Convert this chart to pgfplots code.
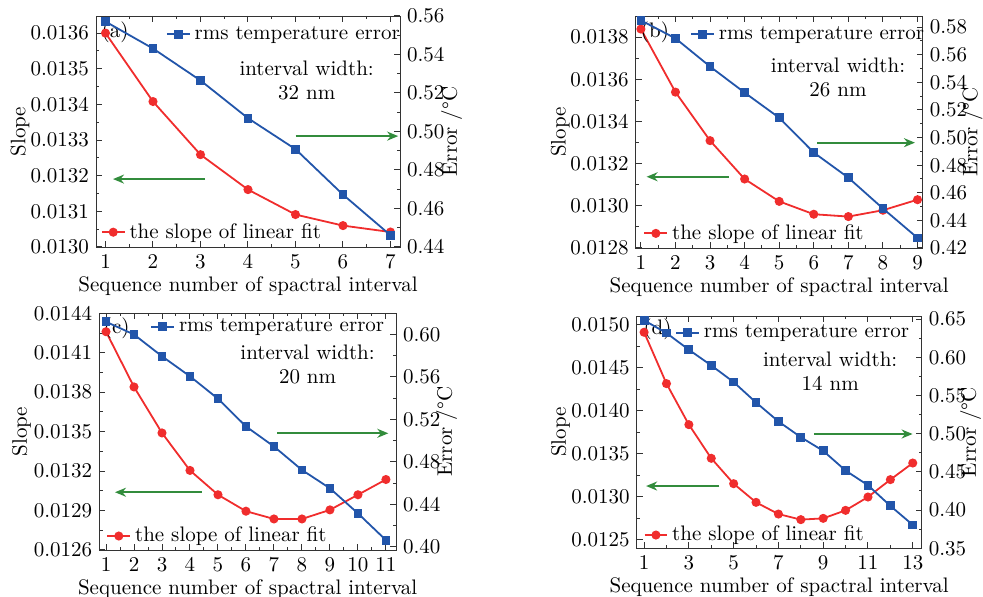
\documentclass[border=0pt]{standalone}
\usepackage{pgfplots}
\pgfplotsset{compat=1.18}
\usetikzlibrary{arrows.meta}
\definecolor{cblue}{RGB}{34,85,170}
\definecolor{cred}{RGB}{240,45,45}
\definecolor{cgreen}{RGB}{50,140,60}
\tikzset{garrow/.style={cgreen, line width=1pt, -{Stealth[length=5.5pt,width=4.5pt]}}}
\pgfplotsset{
  every axis/.append style={font=\fontsize{10.5}{12}\selectfont},
  base/.style={scale only axis, anchor=south west,
    /pgf/number format/assume math mode=true,
    tick align=inside, minor tick num=1,
    major tick length=3pt, minor tick length=1.6pt,
    axis line style={black!80}, tick style={black!80, line width=0.5pt},
    legend style={draw=none, fill=none, anchor=west, inner sep=0pt, font=\fontsize{10.5}{12}\selectfont},
    legend cell align=left,
    legend image code/.code={\draw[mark repeat=2,mark phase=2] plot coordinates {(0cm,0cm) (0.2cm,0cm) (0.4cm,0cm)};},
    xlabel={Sequence number of spactral interval},
    xlabel style={yshift=3pt},
  },
  leftax/.style={base, ytick pos=left, ylabel={Slope},
    ylabel style={at={(rel axis cs:#1,0.5)}, anchor=center},
    yticklabel style={/pgf/number format/.cd, fixed, fixed zerofill, precision=4},
    scaled y ticks=false},
  rightax/.style={base, axis x line=none, axis y line*=right, ytick pos=right,
    ylabel={Error /\textdegree C},
    ylabel style={at={(rel axis cs:#1,0.5)}, anchor=center},
    yticklabel style={/pgf/number format/.cd, fixed, fixed zerofill, precision=2},
    scaled y ticks=false},
  redline/.style={cred, line width=0.9pt, mark=*, mark size=1.8pt, mark options={fill=cred, draw=cred}},
  blueline/.style={cblue, line width=0.9pt, mark=square*, mark size=1.75pt, mark options={fill=cblue, draw=cblue}},
}
\begin{document}
\begin{tikzpicture}
\useasboundingbox (0,0) rectangle (491.5pt,298.5pt);
% ---------------- (a)
\begin{axis}[leftax=-0.25, at={(48pt,175pt)}, width=152pt, height=115.5pt,
  xmin=0.8, xmax=7.2, xtick={1,...,7},
  ymin=0.0130, ymax=0.013648, ytick={0.0130,0.0131,...,0.01365},
  legend style={at={(0.015,0.064)}}]
\addplot[redline] coordinates {(1,0.013600) (2,0.013408) (3,0.013259) (4,0.013161) (5,0.013091) (6,0.013060) (7,0.013042)};
\addlegendentry{the slope of linear fit}
\node at (rel axis cs:0.0625,0.928) {(a)};
\node[align=center] at (rel axis cs:0.693,0.72) {interval width:\\32 nm};
\draw[garrow] (rel axis cs:0.359,0.294) -- (rel axis cs:0.056,0.294);
\draw[garrow] (rel axis cs:0.657,0.48) -- (rel axis cs:0.994,0.48);
\end{axis}
\begin{axis}[rightax=1.17, at={(48pt,175pt)}, width=152pt, height=115.5pt,
  xmin=0.8, xmax=7.2,
  ymin=0.44, ymax=0.56, ytick={0.44,0.46,...,0.561},
  legend style={at={(0.229,0.921)}}]
\addplot[blueline] coordinates {(1,0.5571) (2,0.5431) (3,0.5265) (4,0.5069) (5,0.4908) (6,0.4672) (7,0.4461)};
\addlegendentry{rms temperature error}
\end{axis}
% ---------------- (b)
\begin{axis}[leftax=-0.263, at={(317.85pt,174.5pt)}, width=143.5pt, height=116pt,
  xmin=0.85, xmax=9.15, xtick={1,...,9},
  ymin=0.0128, ymax=0.0139, ytick={0.0128,0.0130,...,0.01385},
  legend style={at={(0.026,0.063)}}]
\addplot[redline] coordinates {(1,0.013838) (2,0.013539) (3,0.013309) (4,0.013127) (5,0.013021) (6,0.012960) (7,0.012949) (8,0.012979) (9,0.013029)};
\addlegendentry{the slope of linear fit}
\node at (rel axis cs:0.067,0.932) {(b)};
\node[align=center] at (rel axis cs:0.705,0.735) {interval width:\\26 nm};
\draw[garrow] (rel axis cs:0.325,0.307) -- (rel axis cs:0.038,0.307);
\draw[garrow] (rel axis cs:0.633,0.454) -- (rel axis cs:0.973,0.454);
\end{axis}
\begin{axis}[rightax=1.172, at={(317.85pt,174.5pt)}, width=143.5pt, height=116pt,
  xmin=0.85, xmax=9.15,
  ymin=0.42, ymax=0.588, ytick={0.42,0.44,...,0.581},
  legend style={at={(0.189,0.921)}}]
\addplot[blueline] coordinates {(1,0.5848) (2,0.5718) (3,0.5514) (4,0.5325) (5,0.5143) (6,0.4891) (7,0.4709) (8,0.4486) (9,0.4273)};
\addlegendentry{rms temperature error}
\end{axis}
% ---------------- (c)
\begin{axis}[leftax=-0.262, at={(49.65pt,23.5pt)}, width=148.35pt, height=118.35pt,
  xmin=0.76, xmax=11.36, xtick={1,...,11},
  ymin=0.0126, ymax=0.0144, ytick={0.0126,0.0129,...,0.01441},
  legend style={at={(0.023,0.059)}}]
\addplot[redline] coordinates {(1,0.014260) (2,0.013840) (3,0.013490) (4,0.013205) (5,0.013020) (6,0.012895) (7,0.012836) (8,0.012836) (9,0.012905) (10,0.013020) (11,0.013136)};
\addlegendentry{the slope of linear fit}
\node at (rel axis cs:0.059,0.937) {(c)};
\node[align=center] at (rel axis cs:0.702,0.782) {interval width:\\20 nm};
\draw[garrow] (rel axis cs:0.345,0.244) -- (rel axis cs:0.053,0.244);
\draw[garrow] (rel axis cs:0.6,0.493) -- (rel axis cs:0.974,0.493);
\end{axis}
\begin{axis}[rightax=1.171, at={(49.65pt,23.5pt)}, width=148.35pt, height=118.35pt,
  xmin=0.76, xmax=11.36,
  ymin=0.397, ymax=0.62, ytick={0.40,0.44,...,0.601},
  legend style={at={(0.171,0.943)}}]
\addplot[blueline] coordinates {(1,0.6120) (2,0.6000) (3,0.5795) (4,0.5606) (5,0.5395) (6,0.5134) (7,0.4945) (8,0.4724) (9,0.4551) (10,0.4315) (11,0.4063)};
\addlegendentry{rms temperature error}
\end{axis}
% ---------------- (d)
\begin{axis}[leftax=-0.267, at={(318.35pt,24.35pt)}, width=142.5pt, height=116.15pt,
  xmin=0.67, xmax=13.4, xtick={1,3,...,13},
  ymin=0.0124, ymax=0.0151, ytick={0.0125,0.0130,...,0.01501},
  legend style={at={(0.023,0.057)}}]
\addplot[redline] coordinates {(1,0.014911) (2,0.014314) (3,0.013837) (4,0.013446) (5,0.013151) (6,0.012934) (7,0.012798) (8,0.012733) (9,0.012748) (10,0.012841) (11,0.012996) (12,0.013198) (13,0.013391)};
\addlegendentry{the slope of linear fit}
\node at (rel axis cs:0.073,0.943) {(d)};
\node[align=center] at (rel axis cs:0.679,0.764) {interval width:\\14 nm};
\draw[garrow] (rel axis cs:0.29,0.268) -- (rel axis cs:0.033,0.268);
\draw[garrow] (rel axis cs:0.622,0.492) -- (rel axis cs:0.968,0.492);
\end{axis}
\begin{axis}[rightax=1.172, at={(318.35pt,24.35pt)}, width=142.5pt, height=116.15pt,
  xmin=0.67, xmax=13.4,
  ymin=0.35, ymax=0.654, ytick={0.35,0.40,...,0.651},
  legend style={at={(0.134,0.928)}}]
\addplot[blueline] coordinates {(1,0.6483) (2,0.6317) (3,0.6098) (4,0.5893) (5,0.5675) (6,0.5408) (7,0.5160) (8,0.4954) (9,0.4775) (10,0.4517) (11,0.4325) (12,0.4055) (13,0.3806)};
\addlegendentry{rms temperature error}
\end{axis}
\end{tikzpicture}
\end{document}
